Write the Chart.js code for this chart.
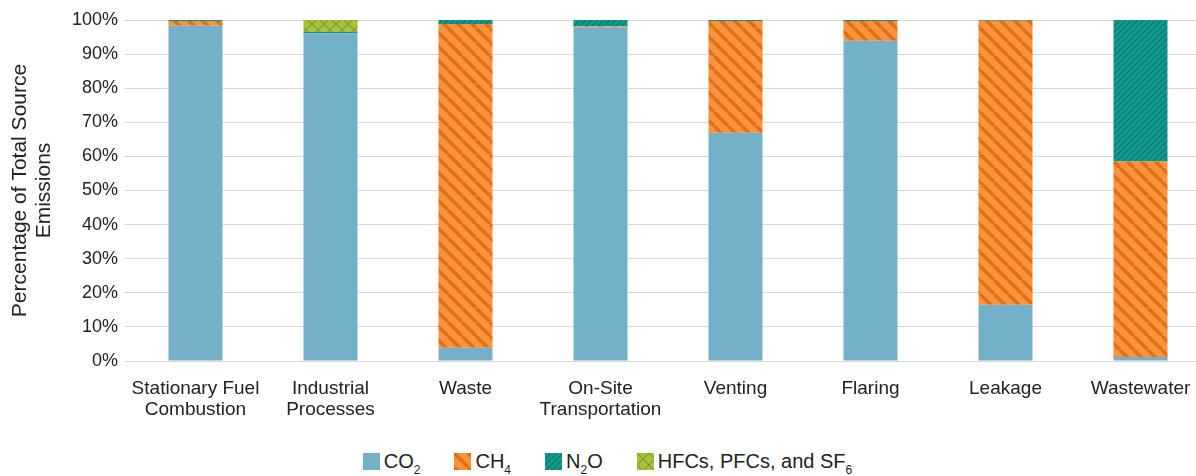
<!DOCTYPE html>
<html>
<head>
<meta charset="utf-8">
<script src="https://cdn.jsdelivr.net/npm/chart.js@4/dist/chart.umd.min.js"></script>
<style>
  html, body { margin: 0; padding: 0; background: #fff; overflow: hidden; }
  body { width: 1196px; height: 476px; font-family: "Liberation Sans", Arial, sans-serif; }
  #wrap { position: relative; width: 1210px; height: 430px; }
  #legend { position: absolute; left: 0; top: 449px; width: 1196px; display: flex; justify-content: center; gap: 34px; font-size: 20px; line-height: 24px; color: #222; padding-left: 19px; box-sizing: border-box; }
  #legend .item { display: flex; align-items: center; }
  #legend canvas { width: 17px; height: 17px; margin-right: 4px; }
  #legend sub { font-size: 12px; vertical-align: -6px; line-height: 0; }
</style>
</head>
<body>
<div id="wrap"><canvas id="emissionsChart"></canvas></div>
<div id="legend"></div>
<script>
// categories and gas shares (percent of total source emissions)
const categories = [['Stationary Fuel', 'Combustion'], ['Industrial', 'Processes'], 'Waste', ['On-Site', 'Transportation'], 'Venting', 'Flaring', 'Leakage', 'Wastewater'];
const co2 = [98.3, 96.1, 3.9, 97.9, 66.9, 93.9, 16.5, 1.2];
const ch4 = [1.4, 0, 94.9, 0.3, 32.8, 5.8, 83.3, 57.3];
const n2o = [0.3, 0.4, 1.2, 1.8, 0.3, 0.3, 0.2, 41.5];
const hfc = [0, 3.5, 0, 0, 0, 0, 0, 0];
const yTicks = [0, 10, 20, 30, 40, 50, 60, 70, 80, 90, 100];

// hatch fills
function stripes(size, base, line, width, dir) {
  const c = document.createElement('canvas');
  c.width = size; c.height = size;
  const x = c.getContext('2d');
  x.fillStyle = base; x.fillRect(0, 0, size, size);
  x.strokeStyle = line; x.lineWidth = width;
  for (let k = -1; k <= 1; k++) {
    x.beginPath();
    if (dir === 'down') { x.moveTo(k * size, 0); x.lineTo(k * size + size, size); }
    else { x.moveTo(k * size, size); x.lineTo(k * size + size, 0); }
    x.stroke();
  }
  return c;
}
function cross(size, base, line) {
  const c = document.createElement('canvas');
  c.width = size; c.height = size;
  const x = c.getContext('2d');
  x.fillStyle = base; x.fillRect(0, 0, size, size);
  x.strokeStyle = line; x.lineWidth = 1.2;
  x.beginPath();
  x.moveTo(0, 0); x.lineTo(size, size);
  x.moveTo(0, size); x.lineTo(size, 0);
  x.stroke();
  return c;
}
const ctx = document.getElementById('emissionsChart').getContext('2d');
const tiles = {
  co2: null,
  ch4: stripes(14, '#f8933f', '#e46d0f', 3.5, 'down'),
  n2o: stripes(6, '#139a8e', '#0b7b71', 1.3, 'up'),
  hfc: cross(12, '#a9c23c', '#7f9a2a')
};
const fills = {
  co2: '#74b1c9',
  ch4: ctx.createPattern(tiles.ch4, 'repeat'),
  n2o: ctx.createPattern(tiles.n2o, 'repeat'),
  hfc: ctx.createPattern(tiles.hfc, 'repeat')
};

const series = [
  { key: 'co2', name: 'CO<sub>2</sub>', label: 'CO₂', data: co2 },
  { key: 'ch4', name: 'CH<sub>4</sub>', label: 'CH₄', data: ch4 },
  { key: 'n2o', name: 'N<sub>2</sub>O', label: 'N₂O', data: n2o },
  { key: 'hfc', name: 'HFCs, PFCs, and SF<sub>6</sub>', label: 'HFCs, PFCs, and SF₆', data: hfc }
];

new Chart(ctx, {
  type: 'bar',
  data: {
    labels: categories,
    datasets: series.map(s => ({
      label: s.label,
      data: s.data,
      backgroundColor: fills[s.key],
      borderWidth: 0,
      barPercentage: 0.8,
      categoryPercentage: 0.5
    }))
  },
  options: {
    responsive: true,
    maintainAspectRatio: false,
    animation: false,
    layout: { padding: { top: 20, right: 2, left: 0, bottom: 0 } },
    plugins: { legend: { display: false }, tooltip: { enabled: false } },
    scales: {
      x: {
        stacked: true,
        grid: { display: false },
        border: { color: '#d9d9d9' },
        ticks: { color: '#222', font: { family: 'Liberation Sans', size: 19, lineHeight: 1.08 }, maxRotation: 0, padding: 10 },
        afterFit: s => { s.height = 69; }
      },
      y: {
        stacked: true,
        min: 0,
        max: 100,
        afterBuildTicks: s => { s.ticks = yTicks.map(v => ({ value: v })); },
        grid: { color: '#d9d9d9', drawTicks: true, tickLength: 4, tickColor: '#d9d9d9' },
        border: { display: false },
        ticks: { color: '#222', font: { family: 'Liberation Sans', size: 18 }, padding: 6, callback: v => v + '%' },
        title: {
          display: true,
          text: ['Percentage of Total Source', 'Emissions'],
          color: '#222',
          font: { family: 'Liberation Sans', size: 21, lineHeight: 1.15 },
          padding: { top: 8, bottom: 0 }
        },
        afterFit: s => { s.width = 128; }
      }
    }
  }
});

// legend with subscripts
const legend = document.getElementById('legend');
series.forEach(s => {
  const item = document.createElement('div');
  item.className = 'item';
  const sw = document.createElement('canvas');
  sw.width = 17; sw.height = 17;
  const sc = sw.getContext('2d');
  sc.fillStyle = s.key === 'co2' ? fills.co2 : sc.createPattern(tiles[s.key], 'repeat');
  sc.fillRect(0, 0, 17, 17);
  const txt = document.createElement('span');
  txt.innerHTML = s.name;
  item.appendChild(sw);
  item.appendChild(txt);
  legend.appendChild(item);
});
</script>
</body>
</html>
